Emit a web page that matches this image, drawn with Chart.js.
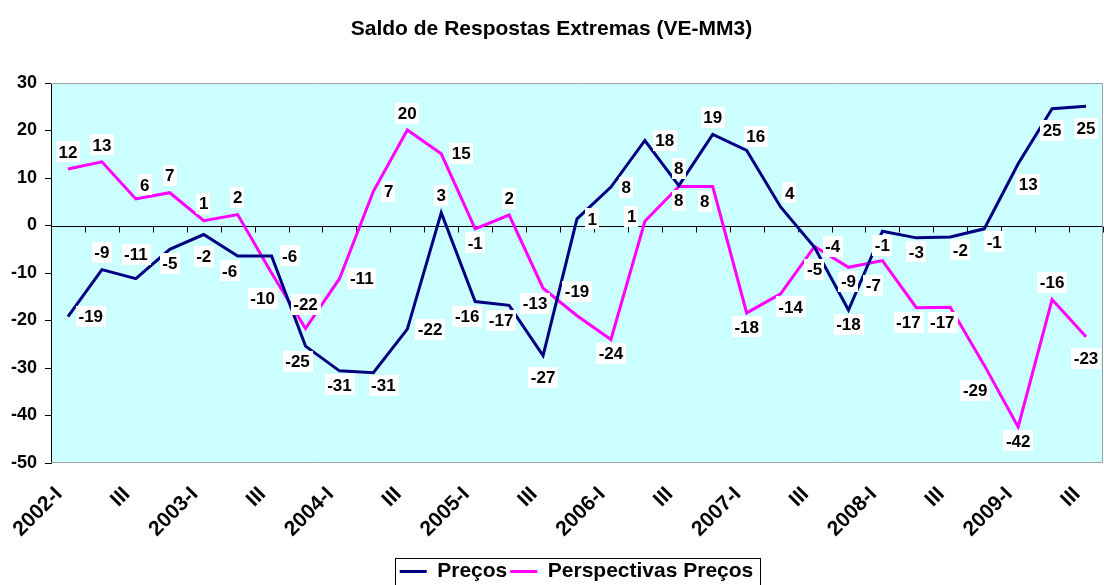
<!DOCTYPE html>
<html>
<head>
<meta charset="utf-8">
<script src="https://cdn.jsdelivr.net/npm/chart.js@4.4.1/dist/chart.umd.min.js"></script>
<style>
html,body{margin:0;padding:0;background:#ffffff;}
#wrap{width:1104px;height:585px;position:relative;}
</style>
</head>
<body>
<div id="wrap"><canvas id="c" width="1104" height="585"></canvas></div>
<script>
// ---- data ----
const categories = [
  '2002-I','II','III','IV',
  '2003-I','II','III','IV',
  '2004-I','II','III','IV',
  '2005-I','II','III','IV',
  '2006-I','II','III','IV',
  '2007-I','II','III','IV',
  '2008-I','II','III','IV',
  '2009-I','II','III'
];
const precos = [-19.2, -9.3, -11.2, -5.0, -1.9, -6.4, -6.4, -25.4, -30.6, -31.0, -21.8, 2.7, -16.0, -16.8, -27.4, 1.4,
                8.1, 17.9, 8.4, 19.2, 15.8, 3.9, -4.6, -17.8, -1.2, -2.6, -2.4, -0.7, 13.0, 24.6, 25.1];
const perspectivas = [11.9, 13.4, 5.6, 6.9, 1.0, 2.3, -10.0, -21.7, -11.2, 7.2, 20.1, 15.1, -0.7, 2.2, -13.2, -19.0,
                -24.0, 0.9, 8.2, 8.2, -18.4, -14.4, -4.4, -8.8, -7.4, -17.3, -17.2, -29.4, -42.4, -15.6, -23.4];
const yTicks = [-50, -40, -30, -20, -10, 0, 10, 20, 30];
const seriesNames = ['Preços', 'Perspectivas Preços'];
const titleText = 'Saldo de Respostas Extremas (VE-MM3)';

// ---- label placement (style only) ----
const precosLabelPos = ['r','a','a2','b','b2','bl','r','bl','b','br','r','a','bl','bl','b2','r',
                        'r','r','a','a','ar','ar','b2','b','b','b','br','br','br2','b2','b2'];
const perspLabelPos  = ['a','a','ar','a','a','a','bl2','a2','r','r','a','r','b','a','bl','a2',
                        'b','l','b','bl','b','br','r','b','bl2','bl','bl','bl2','b','a','b2'];

const FONT_FAMILY = 'Arial, "Liberation Sans", sans-serif';
const LABEL_FONT = 'bold 17px Arial, "Liberation Sans", sans-serif';
const LABEL_H = 21;
function labelOffset(code, w) {
  switch (code) {
    case 'a':  return [0, -17];
    case 'a2': return [0, -24];
    case 'b':  return [0, 14];
    case 'b2': return [0, 22];
    case 'r':  return [w/2 + 8, 0];
    case 'l':  return [-(w/2 + 6), -5];
    case 'ar': return [9, -14];
    case 'br': return [10, 13];
    case 'br2':return [10, 21];
    case 'bl': return [-8, 15];
    case 'bl2':return [-9, 25];
    default:   return [0, -17];
  }
}

const LEGEND_SHIFT = 25;

const plotBg = {
  id: 'plotBg',
  afterLayout(chart) {
    const lg = chart.legend;
    if (lg) {
      lg.left += LEGEND_SHIFT; lg.right += LEGEND_SHIFT;
      (lg.legendHitBoxes || []).forEach(h => { h.left += LEGEND_SHIFT; });
    }
  },
  beforeDraw(chart) {
    const {ctx, chartArea: a} = chart;
    ctx.save();
    ctx.fillStyle = '#CCFFFF';
    ctx.fillRect(a.left, a.top, a.right - a.left, a.bottom - a.top);
    ctx.restore();
  },
  beforeDatasetsDraw(chart) {
    const {ctx, chartArea: a, scales} = chart;
    const x = scales.x, y = scales.y;
    const y0 = Math.round(y.getPixelForValue(0)) + 0.5;
    ctx.save();
    ctx.strokeStyle = '#000';
    ctx.lineWidth = 1;
    ctx.beginPath();
    ctx.moveTo(a.left, y0); ctx.lineTo(a.right, y0);
    for (let i = 0; i < categories.length; i++) {
      const px = i < categories.length - 1
        ? (x.getPixelForValue(i) + x.getPixelForValue(i + 1)) / 2
        : a.right;
      const rx = Math.round(px) + 0.5;
      ctx.moveTo(rx, y0); ctx.lineTo(rx, y0 + 6);
    }
    ctx.stroke();
    // grey frame top/right/bottom
    ctx.strokeStyle = '#A0A0A0';
    ctx.beginPath();
    ctx.moveTo(a.left, a.top + 0.5); ctx.lineTo(a.right - 0.5, a.top + 0.5);
    ctx.lineTo(a.right - 0.5, a.bottom - 0.5); ctx.lineTo(a.left, a.bottom - 0.5);
    ctx.stroke();
    ctx.restore();
  }
};

const pointLabels = {
  id: 'pointLabels',
  afterDatasetsDraw(chart) {
    const ctx = chart.ctx;
    ctx.save();
    ctx.font = LABEL_FONT;
    ctx.textAlign = 'center';
    ctx.textBaseline = 'middle';
    chart.data.datasets.forEach((ds, di) => {
      const meta = chart.getDatasetMeta(di);
      meta.data.forEach((pt, i) => {
        const txt = String(Math.round(ds.data[i]));
        const w = ctx.measureText(txt).width + 5;
        const [dx, dy] = labelOffset(ds.labelPos[i], w);
        const cx = pt.x + dx, cy = pt.y + dy;
        ctx.fillStyle = '#FFFFFF';
        ctx.fillRect(Math.round(cx - w/2), Math.round(cy - LABEL_H/2), Math.round(w), LABEL_H);
        ctx.fillStyle = '#000000';
        ctx.fillText(txt, cx, cy + 1);
      });
    });
    ctx.restore();
  }
};

const legendBox = {
  id: 'legendBox',
  afterDraw(chart) {
    const lg = chart.legend;
    if (!lg || !lg.legendHitBoxes || !lg.legendHitBoxes.length) return;
    const hb = lg.legendHitBoxes;
    const left = hb[0].left - 5;
    const right = hb[hb.length - 1].left + hb[hb.length - 1].width + 6;
    const ctx = chart.ctx;
    ctx.save();
    ctx.strokeStyle = '#000';
    ctx.lineWidth = 1;
    ctx.strokeRect(Math.round(left) + 0.5, Math.round(lg.top) + 0.5, Math.round(right - left), 40);
    ctx.restore();
  }
};

new Chart(document.getElementById('c'), {
  type: 'line',
  data: {
    labels: categories,
    datasets: [
      { label: seriesNames[0], data: precos, borderColor: '#000080', backgroundColor: '#000080',
        borderWidth: 3, pointRadius: 0, tension: 0, fill: false, labelPos: precosLabelPos },
      { label: seriesNames[1], data: perspectivas, borderColor: '#FF00FF', backgroundColor: '#FF00FF',
        borderWidth: 3, pointRadius: 0, tension: 0, fill: false, labelPos: perspLabelPos }
    ]
  },
  options: {
    responsive: false,
    devicePixelRatio: 1,
    animation: false,
    layout: { padding: { left: 0, right: 1, top: 0, bottom: 0 } },
    plugins: {
      title: {
        display: true, text: titleText, color: '#000',
        font: { family: FONT_FAMILY, size: 21, weight: 'bold', lineHeight: 1.2 },
        padding: { top: 17, bottom: 40.8 }
      },
      legend: {
        display: true, position: 'bottom', maxHeight: 27,
        labels: {
          color: '#000', usePointStyle: true, pointStyle: 'line', pointStyleWidth: 27, padding: 3,
          font: { family: FONT_FAMILY, size: 21, weight: 'bold' }
        }
      },
      tooltip: { enabled: false }
    },
    scales: {
      x: {
        type: 'category',
        offset: true,
        grid: { display: false },
        border: { display: false },
        ticks: {
          autoSkip: false, maxRotation: 45, minRotation: 45, padding: 11, labelOffset: -9, color: '#000',
          font: { family: FONT_FAMILY, size: 21, weight: 'bold' },
          callback: function (v, i) { return i % 2 === 0 ? this.getLabelForValue(v) : ''; }
        },
        afterFit(s) { s.height = 95; s.paddingLeft = 0; s.paddingRight = 0; }
      },
      y: {
        min: -50, max: 30,
        afterBuildTicks(s) { s.ticks = yTicks.map(v => ({ value: v })); },
        grid: { drawOnChartArea: false, drawTicks: true, tickLength: 6, color: '#000' },
        border: { display: true, color: '#000', width: 1 },
        ticks: {
          color: '#000', padding: 8,
          font: { family: FONT_FAMILY, size: 18, weight: 'bold' }
        },
        afterFit(s) { s.width = 51; }
      }
    }
  },
  plugins: [plotBg, pointLabels, legendBox]
});
</script>
</body>
</html>
